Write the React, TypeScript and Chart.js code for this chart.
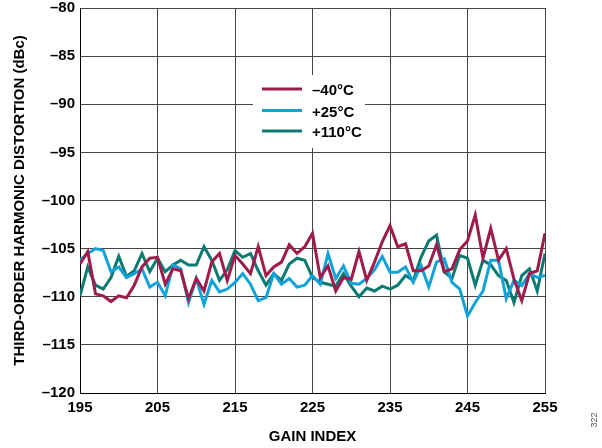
import React, { useEffect, useRef } from "react";
import { Chart, registerables } from "chart.js";

Chart.register(...registerables);

const gainIndex: number[] = [];
for (let g = 195; g <= 255; g++) gainIndex.push(g);

const seriesLabels = ["\u201340\u00B0C", "+25\u00B0C", "+110\u00B0C"];

const minus40 = [
  -106.6, -105.3, -109.7, -109.9, -110.5, -109.9, -110.1, -108.8, -106.9, -106.0,
  -105.9, -108.7, -107.1, -107.3, -110.2, -108.1, -109.4, -106.4, -105.5, -108.3,
  -105.7, -106.6, -107.6, -104.8, -107.8, -106.9, -106.4, -104.6, -105.5, -104.8,
  -103.4, -108.0, -106.8, -109.4, -108.0, -108.2, -105.3, -108.3, -106.4, -104.3,
  -102.6, -104.8, -104.5, -107.3, -107.3, -106.8, -104.6, -107.4, -107.1, -105.1,
  -104.2, -101.5, -106.0, -102.9, -106.2, -105.0, -108.2, -110.4, -107.6, -107.3,
  -103.4,
];

const plus25 = [
  -106.2, -105.5, -105.0, -105.2, -107.4, -106.9, -108.0, -107.6, -107.1, -109.0,
  -108.5, -109.9, -106.7, -107.1, -110.6, -108.1, -110.8, -108.3, -109.5, -109.2,
  -108.5, -107.6, -108.7, -110.4, -110.1, -107.6, -108.7, -108.1, -109.0, -108.8,
  -107.8, -108.7, -105.5, -108.1, -106.8, -108.6, -108.7, -108.1, -107.2, -105.8,
  -107.45, -107.45, -106.9, -108.5, -106.75, -109.0, -106.4, -106.05, -108.5, -109.2,
  -112.0, -110.6, -109.4, -106.2, -106.2, -110.2, -108.3, -108.85, -107.6, -108.0,
  -107.8,
];

const plus110 = [
  -109.9, -106.9, -108.8, -109.2, -108.0, -105.8, -107.9, -107.3, -105.5, -107.4,
  -106.0, -107.4, -106.7, -106.2, -106.7, -106.7, -104.8, -106.2, -108.3, -107.2,
  -105.2, -105.9, -105.5, -107.3, -108.8, -107.6, -108.3, -106.6, -106.0, -106.2,
  -108.0, -108.5, -108.7, -108.9, -107.6, -108.9, -110.0, -109.1, -109.4, -108.9,
  -109.2, -108.8, -107.8, -108.3, -105.9, -104.2, -103.6, -107.4, -108.1, -105.7,
  -106.0, -108.8, -106.2, -106.7, -107.8, -108.3, -110.6, -107.8, -107.1, -109.4,
  -105.5,
];

const colors = ["#9E1B4C", "#12A2DA", "#0B7A72"];
const FONT = "'Liberation Sans', Arial, sans-serif";

const textPlugin = {
  id: "textPlugin",
  afterDraw(chart: any) {
    const ctx = chart.ctx;
    const area = chart.chartArea;
    ctx.save();
    ctx.fillStyle = "#ffffff";
    ctx.fillRect(253, 75, 112, 73);
    const ys = [89, 110.5, 131];
    ctx.font = `bold 15px ${FONT}`;
    ctx.textBaseline = "middle";
    ctx.textAlign = "left";
    for (let i = 0; i < 3; i++) {
      ctx.strokeStyle = colors[i];
      ctx.lineWidth = 3;
      ctx.beginPath();
      ctx.moveTo(262, ys[i]);
      ctx.lineTo(302, ys[i]);
      ctx.stroke();
      ctx.fillStyle = "#000";
      ctx.fillText(seriesLabels[i], 312, ys[i] + 2);
    }
    ctx.textAlign = "center";
    ctx.fillText("GAIN INDEX", (area.left + area.right) / 2, 437);
    ctx.save();
    ctx.translate(20, (area.top + area.bottom) / 2);
    ctx.rotate(-Math.PI / 2);
    ctx.fillText("THIRD-ORDER HARMONIC DISTORTION (dBc)", 0, 0);
    ctx.restore();
    ctx.save();
    ctx.translate(595, 420);
    ctx.rotate(-Math.PI / 2);
    ctx.font = `9px ${FONT}`;
    ctx.fillStyle = "#555";
    ctx.fillText("322", 0, 0);
    ctx.restore();
    ctx.restore();
  },
};

export default function App() {
  const ref = useRef<HTMLCanvasElement>(null);
  useEffect(() => {
    if (!ref.current) return;
    const mk = (arr: number[]) => gainIndex.map((g, i) => ({ x: g, y: arr[i] }));
    const chart = new Chart(ref.current, {
      type: "line",
      data: {
        datasets: [minus40, plus25, plus110].map((d, i) => ({
          label: seriesLabels[i],
          data: mk(d),
          borderColor: colors[i],
          backgroundColor: colors[i],
          borderWidth: 3,
          pointRadius: 0,
          tension: 0,
        })),
      },
      options: {
        animation: false,
        responsive: false,
        layout: { padding: { left: 0, top: 8, right: 57, bottom: 0 } },
        plugins: { legend: { display: false }, tooltip: { enabled: false } },
        scales: {
          x: {
            type: "linear",
            min: 195,
            max: 255,
            afterFit: (s: any) => { s.height = 55; },
            ticks: {
              stepSize: 10,
              color: "#000",
              font: { family: FONT, size: 15, weight: "bold" },
              padding: 6,
              maxRotation: 0,
            },
            grid: { color: "#444", lineWidth: 1, drawTicks: false },
            border: { color: "#000", width: 1 },
          },
          y: {
            min: -120,
            max: -80,
            afterFit: (s: any) => { s.width = 80; s.paddingTop = 0; s.paddingBottom = 0; },
            ticks: {
              stepSize: 5,
              color: "#000",
              font: { family: FONT, size: 15, weight: "bold", lineHeight: 1 },
              padding: 5,
              callback: (v: any) => (v < 0 ? "\u2013" + Math.abs(v) : String(v)),
            },
            grid: { color: "#444", lineWidth: 1, drawTicks: false },
            border: { color: "#000", width: 1 },
          },
        },
      },
      plugins: [textPlugin],
    });
    return () => chart.destroy();
  }, []);
  return (
    <div style={{ position: "absolute", left: 0, top: 0, width: 602, height: 448, background: "#fff" }}>
      <canvas ref={ref} width={602} height={448} />
    </div>
  );
}
